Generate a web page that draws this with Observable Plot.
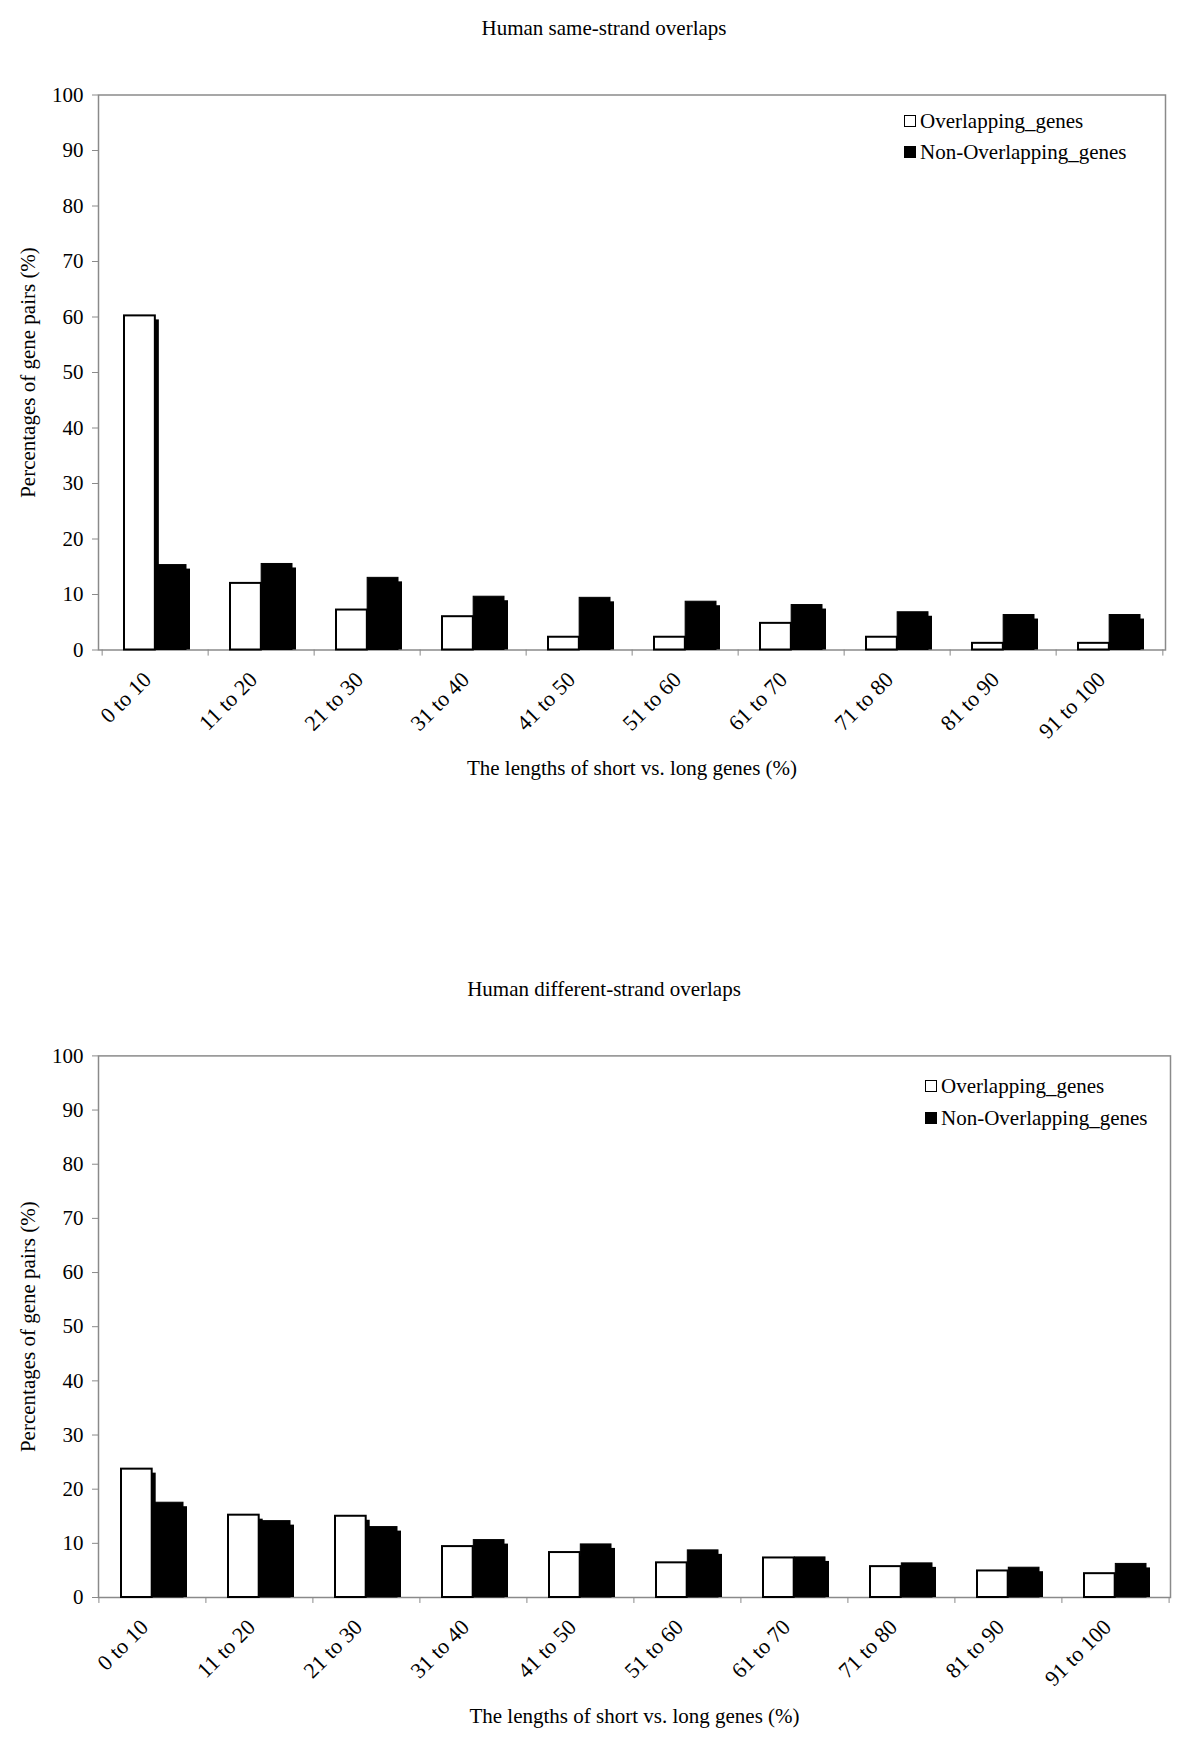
<!DOCTYPE html>
<html><head><meta charset="utf-8">
<script src="https://cdn.jsdelivr.net/npm/d3@7"></script>
<script src="https://cdn.jsdelivr.net/npm/@observablehq/plot@0.6"></script>
<style>
body{margin:0;background:#fff;}
#page{position:relative;width:1200px;height:1744px;font-family:"Liberation Serif","Times New Roman",serif;color:#000;overflow:hidden;}
.title{position:absolute;left:0;width:1208px;text-align:center;font-size:21px;line-height:24px;}
.chart{position:absolute;left:0;}
.legend{position:absolute;font-size:21px;line-height:24px;}
.legend .row{display:flex;align-items:center;height:31px;}
.sw{width:12px;height:12px;border:1.5px solid #000;box-sizing:border-box;margin-right:4px;}
</style></head>
<body><div id="page"></div>
<script>
const categories = ["0 to 10","11 to 20","21 to 30","31 to 40","41 to 50","51 to 60","61 to 70","71 to 80","81 to 90","91 to 100"];
const seriesNames = ["Overlapping_genes","Non-Overlapping_genes"];
const sameOverlapping    = [60.2, 12.0, 7.2, 6.0, 2.3, 2.3, 4.8, 2.3, 1.2, 1.2];
const sameNonOverlapping = [15.3, 15.5, 13.0, 9.6, 9.4, 8.7, 8.1, 6.8, 6.3, 6.3];
const diffOverlapping    = [23.7, 15.2, 15.0, 9.4, 8.3, 6.4, 7.3, 5.7, 4.9, 4.4];
const diffNonOverlapping = [17.5, 14.1, 13.0, 10.6, 9.8, 8.7, 7.4, 6.3, 5.5, 6.2];
const yTicks = [0,10,20,30,40,50,60,70,80,90,100];
const titles = ["Human same-strand overlaps","Human different-strand overlaps"];
const yLabel = "Percentages of gene pairs (%)";
const xLabel = "The lengths of short vs. long genes (%)";

const W = 1200;
const n = categories.length;
const pInner = 0.416, pOuter = pInner / 2;
const page = document.getElementById("page");

function chart(over, non, c) {
  const step = (W - c.ml - c.mr) / n;
  const half = step * (1 - pInner) / 2;
  const data = categories.map((cat, i) => ({cat, over: over[i], non: non[i]}));
  const svg = Plot.plot({
    width: W, height: c.height,
    marginTop: c.mt, marginBottom: c.mb, marginLeft: c.ml, marginRight: c.mr,
    style: {fontFamily: "'Liberation Serif','Times New Roman',serif", fontSize: "20px", color: "#000", background: "#fff", overflow: "visible"},
    x: {type: "band", domain: categories, paddingInner: pInner, paddingOuter: pOuter, label: null},
    y: {domain: [0, 100], label: null},
    marks: [
      Plot.frame({stroke: "#8a8a8a", strokeWidth: 1.5}),
      Plot.axisY({ticks: yTicks, tickSize: 6, tickPadding: 9, stroke: "#8a8a8a", fill: "#000", fontSize: 21,
                  label: yLabel, labelAnchor: "center", labelOffset: 78, labelArrow: "none"}),
      Plot.axisX({tickSize: 0, tickRotate: -45, tickPadding: 26, dx: -8, fontSize: 22, fill: "#000",
                  label: null}),
      Plot.axisX({ticks: [], tickSize: 0, label: xLabel, labelAnchor: "center", labelOffset: 125, labelArrow: "none", fontSize: 21, fill: "#000"}),
      Plot.ruleX(categories, {x: d => d, y1: 0, y2: -1.1, dx: -step / 2, stroke: "#8a8a8a"}),
      Plot.ruleX(categories.slice(-1), {x: d => d, y1: 0, y2: -1.1, dx: step / 2, stroke: "#8a8a8a"}),
      Plot.barY(data, {x: "cat", y: "over", insetRight: half, dx: 4, insetTop: 4, fill: "#000"}),
      Plot.barY(data, {x: "cat", y: "non", insetLeft: half, dx: 4, insetTop: 4, fill: "#000"}),
      Plot.barY(data, {x: "cat", y: "over", insetRight: half, fill: "#fff", stroke: "#000", strokeWidth: 2}),
      Plot.barY(data, {x: "cat", y: "non", insetLeft: half, fill: "#000", stroke: "#000", strokeWidth: 1})
    ]
  });
  svg.classList.add("chart");
  svg.style.top = c.top + "px";
  page.appendChild(svg);

  const t = document.createElement("div");
  t.className = "title";
  t.style.top = (c.titleY - 12) + "px";
  t.textContent = c.title;
  page.appendChild(t);

  const lg = document.createElement("div");
  lg.className = "legend";
  lg.style.left = c.legX + "px";
  lg.style.top = (c.legY - 15.5) + "px";
  seriesNames.forEach((name, i) => {
    const r = document.createElement("div");
    r.className = "row";
    r.style.height = c.legGap + "px";
    const s = document.createElement("span");
    s.className = "sw";
    s.style.background = i === 0 ? "#fff" : "#000";
    const tx = document.createElement("span");
    tx.textContent = name;
    r.appendChild(s); r.appendChild(tx);
    lg.appendChild(r);
  });
  page.appendChild(lg);
}

chart(sameOverlapping, sameNonOverlapping, {
  top: 50, height: 740, mt: 44.5, mb: 140.5, ml: 98, mr: 35,
  title: titles[0], titleY: 28, legX: 904, legY: 121, legGap: 31
});
chart(diffOverlapping, diffNonOverlapping, {
  top: 1010, height: 734, mt: 45.4, mb: 147, ml: 98, mr: 30,
  title: titles[1], titleY: 989, legX: 925, legY: 1085, legGap: 32
});
</script>
</body></html>
